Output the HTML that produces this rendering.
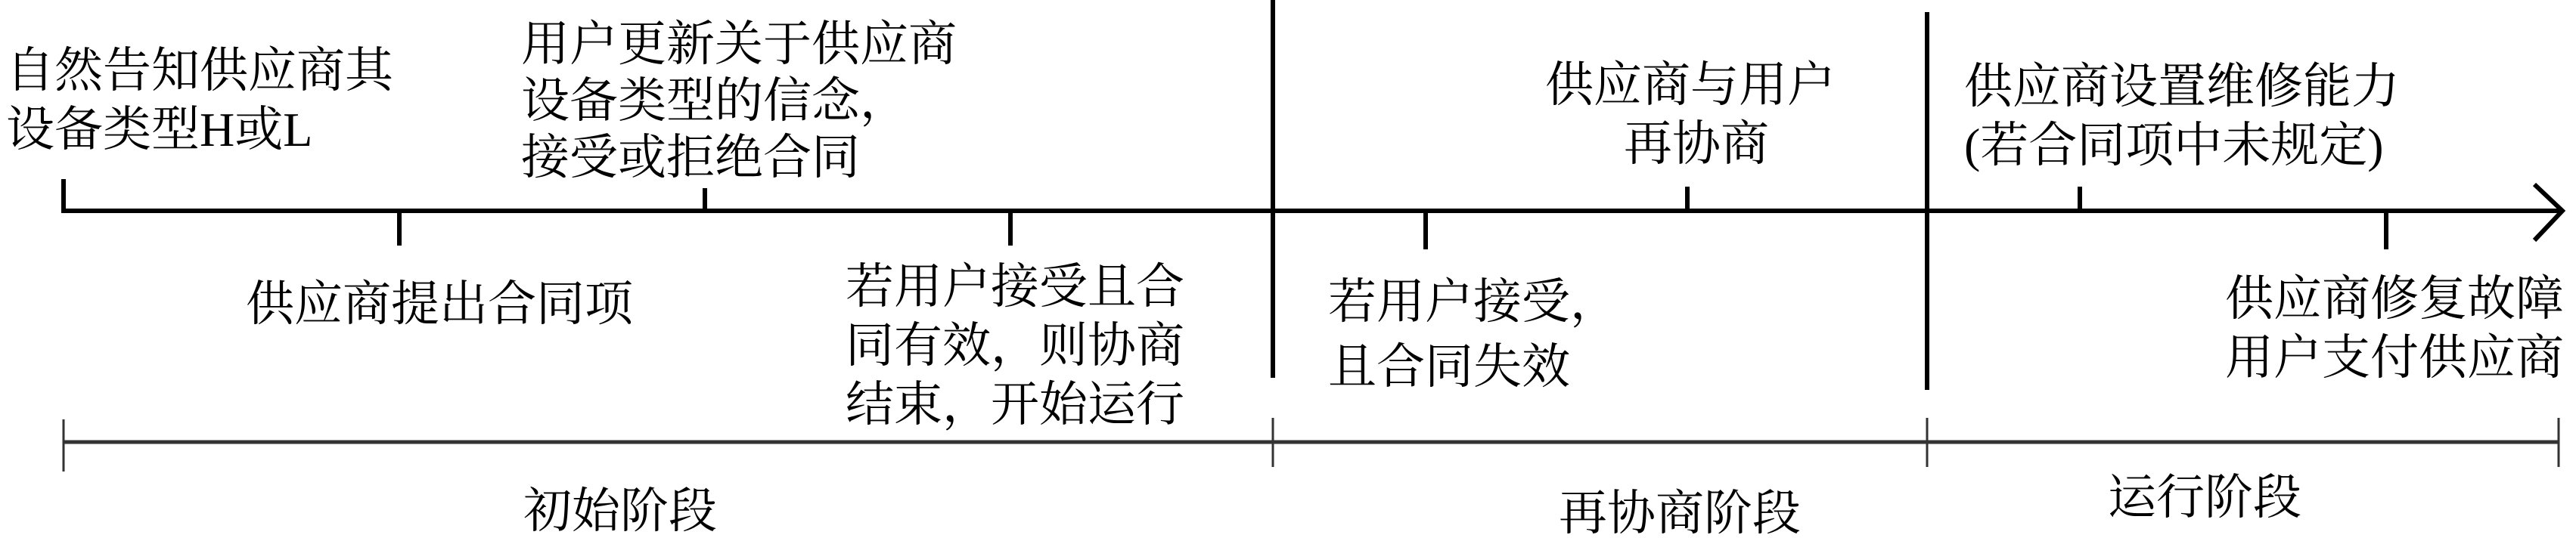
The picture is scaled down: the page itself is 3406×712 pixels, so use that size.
<!DOCTYPE html>
<html><head><meta charset="utf-8"><style>
html,body{margin:0;padding:0;background:#fff;}
#c{position:relative;width:3406px;height:712px;overflow:hidden;background:#fff;}
.t{position:absolute;font-family:"Liberation Serif","Noto Serif CJK SC",serif;font-size:64px;line-height:78px;color:#000;white-space:nowrap;}
svg{position:absolute;left:0;top:0;}
</style></head><body><div id="c">
<svg width="3406" height="712">
<g stroke="#000" stroke-width="6" fill="none">
<line x1="84" y1="279" x2="3386" y2="279"/>
<line x1="84" y1="237" x2="84" y2="282"/>
<line x1="528" y1="279" x2="528" y2="325"/>
<line x1="932" y1="249" x2="932" y2="279"/>
<line x1="1336" y1="279" x2="1336" y2="325"/>
<line x1="1683" y1="0" x2="1683" y2="500"/>
<line x1="1885" y1="279" x2="1885" y2="330"/>
<line x1="2231" y1="247" x2="2231" y2="279"/>
<line x1="2548" y1="16" x2="2548" y2="516"/>
<line x1="2750" y1="247" x2="2750" y2="279"/>
<line x1="3155" y1="279" x2="3155" y2="330"/>
<polyline points="3351,244 3388,279 3351,318" stroke-width="6"/>
</g>
<g stroke="#333" fill="none">
<line x1="84" y1="585" x2="3383" y2="585" stroke-width="5"/>
<line x1="84" y1="555" x2="84" y2="624" stroke-width="3"/>
<line x1="1683" y1="553" x2="1683" y2="618" stroke-width="3"/>
<line x1="2548" y1="553" x2="2548" y2="618" stroke-width="3"/>
<line x1="3383" y1="553" x2="3383" y2="618" stroke-width="3"/>
</g>
</svg>
<div class="t" style="left:8px;top:55px;">自然告知供应商其<br>设备类型H或L</div>
<div class="t" style="left:689px;top:21px;line-height:75px;">用户更新关于供应商<br>设备类型的信念，<br>接受或拒绝合同</div>
<div class="t" style="left:325px;top:364px;">供应商提出合同项</div>
<div class="t" style="left:1118px;top:341px;">若用户接受且合<br>同有效，则协商<br>结束，开始运行</div>
<div class="t" style="left:2043px;top:74px;">供应商与用户<br><span style="padding-left:104px">再协商</span></div>
<div class="t" style="left:1756px;top:357px;line-height:86px;">若用户接受，<br>且合同失效</div>
<div class="t" style="left:2597px;top:76px;">供应商设置维修能力<br>(若合同项中未规定)</div>
<div class="t" style="left:2942px;top:357px;">供应商修复故障<br>用户支付供应商</div>
<div class="t" style="left:692px;top:638px;">初始阶段</div>
<div class="t" style="left:2061px;top:641px;">再协商阶段</div>
<div class="t" style="left:2787px;top:620px;">运行阶段</div>
</div></body></html>
